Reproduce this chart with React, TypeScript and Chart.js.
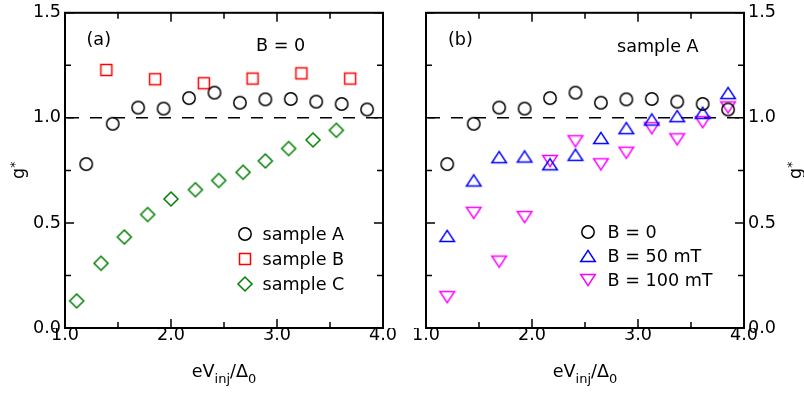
import React, { useEffect, useRef } from 'react';
import { Chart, registerables } from 'chart.js';

Chart.register(...registerables);

// ---------------- data ----------------
const biasA = [1.2, 1.45, 1.69, 1.93, 2.17, 2.41, 2.65, 2.89, 3.13, 3.37, 3.61, 3.85];
const gSampleA = [0.78, 0.972, 1.049, 1.044, 1.094, 1.12, 1.072, 1.088, 1.09, 1.077, 1.066, 1.04];
const biasB = [1.39, 1.85, 2.31, 2.77, 3.23, 3.69];
const gSampleB = [1.228, 1.184, 1.165, 1.187, 1.212, 1.187];
const biasC = [1.11, 1.34, 1.56, 1.78, 2.0, 2.23, 2.45, 2.68, 2.89, 3.11, 3.34, 3.56];
const gSampleC = [0.129, 0.308, 0.433, 0.54, 0.614, 0.658, 0.702, 0.741, 0.795, 0.854, 0.895, 0.941];

const biasField = [1.2, 1.45, 1.69, 1.93, 2.17, 2.41, 2.65, 2.89, 3.13, 3.37, 3.61, 3.85];
const gField0 = [0.78, 0.972, 1.049, 1.044, 1.094, 1.12, 1.072, 1.088, 1.09, 1.077, 1.066, 1.04];
const gField50 = [0.438, 0.702, 0.813, 0.816, 0.779, 0.824, 0.904, 0.951, 0.992, 1.008, 1.024, 1.118];
const gField100 = [0.147, 0.548, 0.316, 0.528, 0.795, 0.889, 0.779, 0.834, 0.951, 0.898, 0.98, 1.05];

const xMajorTicks = [1, 2, 3, 4];
const yMajorTicks = [0, 0.5, 1, 1.5];
const REFERENCE_G = 1;

// ---------------- styling ----------------
const FONT = "'DejaVu Sans', 'Liberation Sans', sans-serif";
const FS = 17.6;

type Kind = 'circle' | 'square' | 'diamond' | 'up' | 'down';

interface Series { label: string; xs: number[]; ys: number[]; kind: Kind; color: string; }
interface Panel {
  side: 'left' | 'right';
  series: Series[];
  tag: string; tagDx: number; tagY: number;
  note: string; noteDx: number; noteY: number;
  legMarkerDx: number; legTextDx: number; legY: number[];
  yTitleX: number;
  padding: { left: number; right: number; top: number; bottom: number };
}

const LEFT_PANEL: Panel = {
  side: 'left',
  series: [
    { label: 'sample A', xs: biasA, ys: gSampleA, kind: 'circle', color: '#000000' },
    { label: 'sample B', xs: biasB, ys: gSampleB, kind: 'square', color: '#ff0000' },
    { label: 'sample C', xs: biasC, ys: gSampleC, kind: 'diamond', color: '#008000' },
  ],
  tag: '(a)', tagDx: 21.5, tagY: 40.5,
  note: 'B = 0', noteDx: 191, noteY: 46,
  legMarkerDx: 180, legTextDx: 197.5, legY: [234.3, 259, 284],
  yTitleX: 24,
  padding: { left: 0, right: 19, top: 9.5, bottom: 0 },
};

const RIGHT_PANEL: Panel = {
  side: 'right',
  series: [
    { label: 'B = 0', xs: biasField, ys: gField0, kind: 'circle', color: '#000000' },
    { label: 'B = 50 mT', xs: biasField, ys: gField50, kind: 'up', color: '#0000ff' },
    { label: 'B = 100 mT', xs: biasField, ys: gField100, kind: 'down', color: '#ff00ff' },
  ],
  tag: '(b)', tagDx: 22, tagY: 40.5,
  note: 'sample A', noteDx: 191, noteY: 47,
  legMarkerDx: 162.3, legTextDx: 181.5, legY: [232.3, 256, 280],
  yTitleX: 399,
  padding: { left: 24, right: 0, top: 9.5, bottom: 0 },
};

function makeMarker(kind: Kind, color: string): HTMLCanvasElement {
  const s = 22;
  const c = s / 2;
  const cv = document.createElement('canvas');
  cv.width = s;
  cv.height = s;
  const g = cv.getContext('2d')!;
  g.strokeStyle = color;
  g.lineWidth = 1.5;
  g.lineJoin = 'miter';
  g.beginPath();
  if (kind === 'circle') {
    g.arc(c, c, 6.2, 0, Math.PI * 2);
  } else if (kind === 'square') {
    g.rect(c - 5.5, c - 5.5, 11, 11);
  } else if (kind === 'diamond') {
    g.moveTo(c, c - 7); g.lineTo(c + 7, c); g.lineTo(c, c + 7); g.lineTo(c - 7, c); g.closePath();
  } else if (kind === 'up') {
    g.moveTo(c, c - 5.6); g.lineTo(c + 7.3, c + 5.6); g.lineTo(c - 7.3, c + 5.6); g.closePath();
  } else {
    g.moveTo(c, c + 5.6); g.lineTo(c + 7.3, c - 5.6); g.lineTo(c - 7.3, c - 5.6); g.closePath();
  }
  g.stroke();
  return cv;
}

const isMajor = (v: number, list: number[]) => list.some((m) => Math.abs(m - v) < 1e-9);

function drawXTitle(ctx: CanvasRenderingContext2D, cx: number, base: number) {
  const parts: { t: string; size: number; dy: number }[] = [
    { t: 'eV', size: FS, dy: 0 },
    { t: 'inj', size: 13, dy: 5.5 },
    { t: '/\u0394', size: FS, dy: 0 },
    { t: '0', size: 13, dy: 5.5 },
  ];
  let total = 0;
  const widths = parts.map((p) => {
    ctx.font = `${p.size}px ${FONT}`;
    const w = ctx.measureText(p.t).width;
    total += w;
    return w;
  });
  let x = cx - total / 2;
  ctx.textAlign = 'left';
  ctx.textBaseline = 'alphabetic';
  parts.forEach((p, i) => {
    ctx.font = `${p.size}px ${FONT}`;
    ctx.fillText(p.t, x, base + p.dy);
    x += widths[i];
  });
}

function drawYTitle(ctx: CanvasRenderingContext2D, bx: number, cy: number) {
  ctx.save();
  ctx.translate(bx, cy);
  ctx.rotate(-Math.PI / 2);
  ctx.textAlign = 'left';
  ctx.textBaseline = 'alphabetic';
  ctx.font = `${FS}px ${FONT}`;
  const wg = ctx.measureText('g').width;
  ctx.font = `12px ${FONT}`;
  const ws = ctx.measureText('*').width;
  const sx = -(wg + ws) / 2;
  ctx.font = `${FS}px ${FONT}`;
  ctx.fillText('g', sx, 0);
  ctx.font = `12px ${FONT}`;
  ctx.fillText('*', sx + wg, -5);
  ctx.restore();
}

function makePlugin(p: Panel, markers: HTMLCanvasElement[]) {
  return {
    id: 'panelDeco',
    beforeDatasetsDraw(chart: any) {
      const { ctx, chartArea: a } = chart;
      const py = chart.scales.y.getPixelForValue(REFERENCE_G);
      ctx.save();
      ctx.strokeStyle = '#000';
      ctx.lineWidth = 1.5;
      ctx.setLineDash([12, 11]);
      ctx.lineDashOffset = -2;
      ctx.beginPath();
      ctx.moveTo(a.left, py);
      ctx.lineTo(a.right, py);
      ctx.stroke();
      ctx.restore();
    },
    afterDraw(chart: any) {
      const { ctx, chartArea: a } = chart;
      const xs = chart.scales.x;
      const ys = chart.scales.y;
      ctx.save();
      ctx.strokeStyle = '#000';
      ctx.fillStyle = '#000';
      ctx.lineWidth = 1.5;
      ctx.beginPath();
      xs.ticks.forEach((t: any) => {
        const px = xs.getPixelForValue(t.value);
        const L = isMajor(t.value, xMajorTicks) ? 9 : 6;
        ctx.moveTo(px, a.bottom); ctx.lineTo(px, a.bottom - L);
        ctx.moveTo(px, a.top); ctx.lineTo(px, a.top + L);
      });
      ys.ticks.forEach((t: any) => {
        const py = ys.getPixelForValue(t.value);
        const L = isMajor(t.value, yMajorTicks) ? 9 : 6;
        ctx.moveTo(a.left, py); ctx.lineTo(a.left + L, py);
        ctx.moveTo(a.right, py); ctx.lineTo(a.right - L, py);
      });
      ctx.stroke();
      ctx.lineWidth = 2;
      ctx.strokeRect(a.left, a.top, a.right - a.left, a.bottom - a.top);

      ctx.font = `${FS}px ${FONT}`;
      ctx.textAlign = 'left';
      ctx.textBaseline = 'middle';
      ctx.fillText(p.tag, a.left + p.tagDx, p.tagY);
      ctx.fillText(p.note, a.left + p.noteDx, p.noteY);

      p.series.forEach((s, i) => {
        const my = p.legY[i];
        const img = markers[i];
        ctx.drawImage(img, Math.round(a.left + p.legMarkerDx) - img.width / 2, Math.round(my) - img.height / 2);
        ctx.fillText(s.label, a.left + p.legTextDx, my + 1);
      });

      drawXTitle(ctx, (a.left + a.right) / 2, 377);
      drawYTitle(ctx, p.yTitleX, (a.top + a.bottom) / 2);
      ctx.restore();
    },
  };
}

function buildConfig(p: Panel): any {
  const markers = p.series.map((s) => makeMarker(s.kind, s.color));
  return {
    type: 'scatter',
    data: {
      datasets: p.series.map((s, i) => ({
        label: s.label,
        data: s.xs.map((x, j) => ({ x, y: s.ys[j] })),
        pointStyle: markers[i],
        pointRadius: 7,
        pointHoverRadius: 7,
        showLine: false,
      })),
    },
    options: {
      animation: false,
      responsive: false,
      devicePixelRatio: 1,
      layout: { padding: p.padding },
      plugins: { legend: { display: false }, tooltip: { enabled: false } },
      events: [],
      scales: {
        x: {
          type: 'linear',
          min: 1,
          max: 4,
          afterFit: (s: any) => { s.height = 66; },
          grid: { display: false, drawTicks: false },
          border: { display: false },
          ticks: {
            stepSize: 0.5,
            autoSkip: false,
            maxRotation: 0,
            padding: 0,
            color: '#000',
            font: { family: FONT, size: FS, lineHeight: 0.9 },
            callback: (v: number) => (isMajor(v, xMajorTicks) ? v.toFixed(1) : ''),
          },
        },
        y: {
          type: 'linear',
          position: p.side === 'left' ? 'left' : 'right',
          min: 0,
          max: 1.5,
          afterFit: (s: any) => { s.width = p.side === 'left' ? 65 : 60; },
          grid: { display: false, drawTicks: false },
          border: { display: false },
          ticks: {
            stepSize: 0.25,
            autoSkip: false,
            padding: 4,
            color: '#000',
            font: { family: FONT, size: FS, lineHeight: 1 },
            callback: (v: number) => (isMajor(v, yMajorTicks) ? v.toFixed(1) : ''),
          },
        },
      },
    },
    plugins: [makePlugin(p, markers)],
  };
}

export default function App() {
  const leftRef = useRef<HTMLCanvasElement>(null);
  const rightRef = useRef<HTMLCanvasElement>(null);
  useEffect(() => {
    const charts = [
      new Chart(leftRef.current!, buildConfig(LEFT_PANEL)),
      new Chart(rightRef.current!, buildConfig(RIGHT_PANEL)),
    ];
    return () => charts.forEach((c) => c.destroy());
  }, []);
  return (
    <div style={{ position: 'absolute', left: 0, top: 0, width: 804, height: 394, background: '#fff' }}>
      <canvas ref={leftRef} width={402} height={394} style={{ position: 'absolute', left: 0, top: 0, width: 402, height: 394 }} />
      <canvas ref={rightRef} width={402} height={394} style={{ position: 'absolute', left: 402, top: 0, width: 402, height: 394 }} />
    </div>
  );
}
